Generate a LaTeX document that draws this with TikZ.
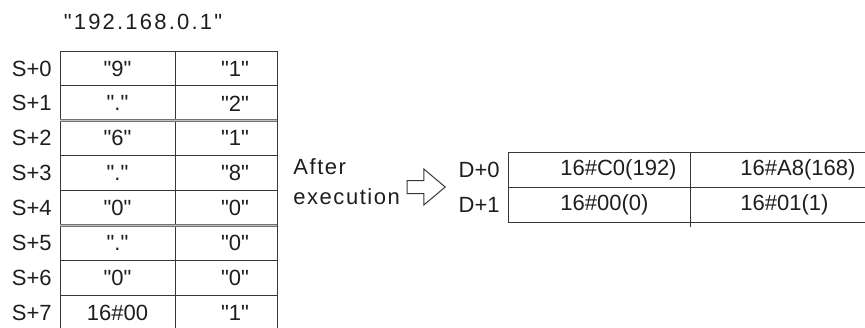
\documentclass[tikz,border=0pt]{standalone}
\usepackage{fontspec}
\setmainfont{Liberation Sans}[Ligatures=TeXOff]
\usetikzlibrary{positioning, shapes.arrows}
\definecolor{gridline}{RGB}{55,55,55}
\definecolor{textgrey}{RGB}{30,30,30}

\begin{document}
\begin{tikzpicture}[x=0.5pt, y=-0.5pt,
    every node/.style={font=\fontsize{11}{13}\selectfont, text=textgrey},
    lcell/.style={rectangle, draw=gridline, line width=0.5pt, inner sep=0pt, outer sep=0pt, minimum width=57.5pt, minimum height=17.45pt},
    rcell/.style={lcell, minimum width=51pt, execute at begin node={\hspace*{9pt}}},
    dcell/.style={rectangle, draw=gridline, line width=0.5pt, inner sep=0pt, outer sep=0pt, minimum height=17.5pt},
    rowlabel/.style={inner sep=0pt},
    dline/.style={draw=black!55, double=black!25, double distance=0.5pt, line width=0.45pt}
]
\useasboundingbox (0,0) rectangle (865,327);

% String title
\node (title) [font=\fontsize{11}{13}\selectfont\addfontfeatures{LetterSpace=10}] at (143,22) {"192.168.0.1"};

% Source table S
\node (s0a) [lcell, anchor=north west] at (60,51) {"9"};
\node (s0b) [rcell, right=0pt of s0a] {"1"};
\node (s1a) [lcell, below=0pt of s0a] {"."};
\node (s1b) [rcell, right=0pt of s1a] {"2"};
\node (s2a) [lcell, below=0pt of s1a] {"6"};
\node (s2b) [rcell, right=0pt of s2a] {"1"};
\node (s3a) [lcell, below=0pt of s2a] {"."};
\node (s3b) [rcell, right=0pt of s3a] {"8"};
\node (s4a) [lcell, below=0pt of s3a] {"0"};
\node (s4b) [rcell, right=0pt of s4a] {"0"};
\node (s5a) [lcell, below=0pt of s4a] {"."};
\node (s5b) [rcell, right=0pt of s5a] {"0"};
\node (s6a) [lcell, below=0pt of s5a] {"0"};
\node (s6b) [rcell, right=0pt of s6a] {"0"};
\node (s7a) [lcell, below=0pt of s6a] {16\#00};
\node (s7b) [rcell, right=0pt of s7a] {"1"};

% Separators between IP fields
\draw [dline] (s1a.south west) -- (s1b.south east);
\draw [dline] (s4a.south west) -- (s4b.south east);

% Row labels S
\node (ls0) [rowlabel, left=4pt of s0a] {S+0};
\node (ls1) [rowlabel, left=4pt of s1a] {S+1};
\node (ls2) [rowlabel, left=4pt of s2a] {S+2};
\node (ls3) [rowlabel, left=4pt of s3a] {S+3};
\node (ls4) [rowlabel, left=4pt of s4a] {S+4};
\node (ls5) [rowlabel, left=4pt of s5a] {S+5};
\node (ls6) [rowlabel, left=4pt of s6a] {S+6};
\node (ls7) [rowlabel, left=4pt of s7a] {S+7};

% After execution
\node (after) [anchor=west, align=left, inner sep=0pt, font=\fontsize{11}{15}\selectfont\addfontfeatures{LetterSpace=7}] at (293,182) {After\\execution};
\node (arr) [single arrow, draw=gridline, line width=0.5pt, minimum height=19pt, single arrow head extend=5.75pt, single arrow tip angle=80, inner sep=3pt, anchor=tip] at (446,187) {};

% Result table D
\node (d0a) [dcell, minimum width=91pt, anchor=north west] at (508,152) {};
\node (d0b) [dcell, minimum width=88pt, right=0pt of d0a] {};
\node (d1a) [dcell, minimum width=91pt, below=0pt of d0a] {};
\node (d1b) [dcell, minimum width=88pt, right=0pt of d1a] {};
\draw [gridline, line width=0.5pt] (d1a.south east) -- ++(0,5);

\node (t0a) [anchor=west, inner sep=0pt] at ([xshift=26pt]d0a.west) {16\#C0(192)};
\node (t0b) [anchor=west, inner sep=0pt] at ([xshift=25pt]d0b.west) {16\#A8(168)};
\node (t1a) [anchor=west, inner sep=0pt] at ([xshift=26pt]d1a.west) {16\#00(0)};
\node (t1b) [anchor=west, inner sep=0pt] at ([xshift=25pt]d1b.west) {16\#01(1)};

\node (ld0) [rowlabel, left=4pt of d0a] {D+0};
\node (ld1) [rowlabel, left=4pt of d1a] {D+1};

\end{tikzpicture}
\end{document}
